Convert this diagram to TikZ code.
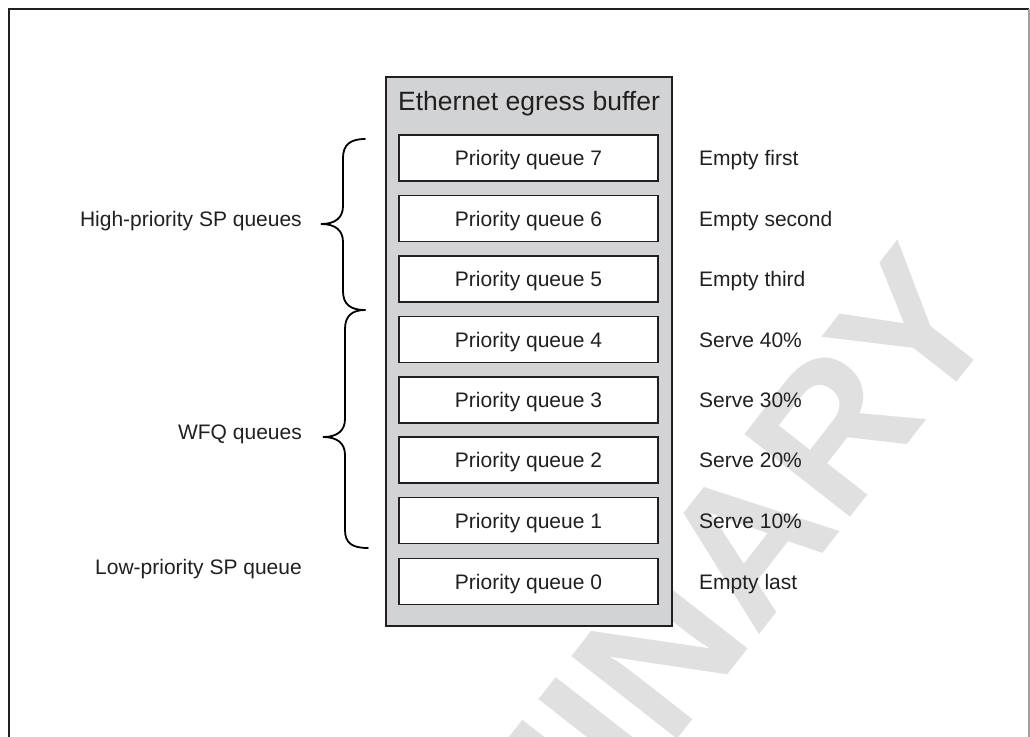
\documentclass[tikz,border=0pt]{standalone}
\usepackage{fontspec}
\setmainfont{Liberation Sans}
\definecolor{ink}{HTML}{231F20}
\definecolor{bufgray}{HTML}{D1D3D4}
\definecolor{wmark}{HTML}{E0E0E0}
\definecolor{framegray}{HTML}{A0A0A0}
\tikzset{
  qbox/.style={draw=ink, line width=1.4pt, fill=white, minimum width=259pt,
    minimum height=46pt, inner sep=0pt, text=ink,
    font=\fontsize{21}{25}\selectfont, text height=15pt, text depth=0pt},
  rlabel/.style={anchor=west, inner sep=0pt, text=ink,
    font=\fontsize{21}{25}\selectfont, text height=15pt, text depth=0pt},
  llabel/.style={anchor=east, inner sep=0pt, text=ink,
    font=\fontsize{21}{25}\selectfont, text height=15pt, text depth=0pt},
  bracepath/.style={draw=black, line width=1.8pt, line cap=round}
}
\begin{document}
\begin{tikzpicture}[x=1pt, y=-1pt]
\useasboundingbox (0,0) rectangle (1030,736);

% watermark behind everything
\node[rotate=52, text=wmark, inner sep=0pt,
      font=\bfseries\fontsize{195}{195}\selectfont] (wm) at (541,805) {PRELIMINARY};

% page frame
\draw[ink, line width=1.5pt] (9,745) -- (9,9) -- (1029,9);
\draw[framegray, line width=1.2pt] (1029,9) -- (1029,745);

% egress buffer
\node[draw=ink, line width=2.5pt, fill=bufgray, minimum width=286pt,
      minimum height=549pt, inner sep=0pt] (buf) at (529,351.5) {};
\node[text=ink, inner sep=0pt, font=\fontsize{26.5}{30}\selectfont,
      text height=19pt, text depth=0pt] (title) at (529,101) {Ethernet egress buffer};

% priority queues
\foreach \i/\y in {7/158, 6/218.5, 5/279, 4/339.5, 3/400, 2/460, 1/520.5, 0/581.5}{
  \node[qbox] (q\i) at (528.5,\y) {Priority queue \i};
}

% service order
\node[rlabel] (s7) at (699,158)   {Empty first};
\node[rlabel] (s6) at (699,218.5) {Empty second};
\node[rlabel] (s5) at (699,279)   {Empty third};
\node[rlabel] (s4) at (699,339.5) {Serve 40\%};
\node[rlabel] (s3) at (699,400)   {Serve 30\%};
\node[rlabel] (s2) at (699,460)   {Serve 20\%};
\node[rlabel] (s1) at (699,520.5) {Serve 10\%};
\node[rlabel] (s0) at (699,581.5) {Empty last};

% group names
\node[llabel] (hp)  at (302,219) {High-priority SP queues};
\node[llabel] (wfq) at (302,432) {WFQ queues};
\node[llabel] (lp)  at (302,567) {Low-priority SP queue};

% braces
\coordinate (b1top) at (365,139);
\coordinate (b1tip) at (321,224);
\coordinate (b1bot) at (365,310);
\coordinate (b2tip) at (323,437);
\coordinate (b2bot) at (368,548);

\draw[bracepath] (b1top) .. controls (350,139) and (343,145) .. (343,158)
  -- (343,206) .. controls (343,218) and (335,224) .. (b1tip)
  .. controls (335,224) and (343,230) .. (343,242)
  -- (343,291) .. controls (343,304) and (350,310) .. (b1bot);

\draw[bracepath] (b1bot) .. controls (352,310) and (345,316) .. (345,329)
  -- (345,419) .. controls (345,431) and (337,437) .. (b2tip)
  .. controls (337,437) and (345,443) .. (345,455)
  -- (345,530) .. controls (345,543) and (352,548) .. (b2bot);
\end{tikzpicture}
\end{document}
